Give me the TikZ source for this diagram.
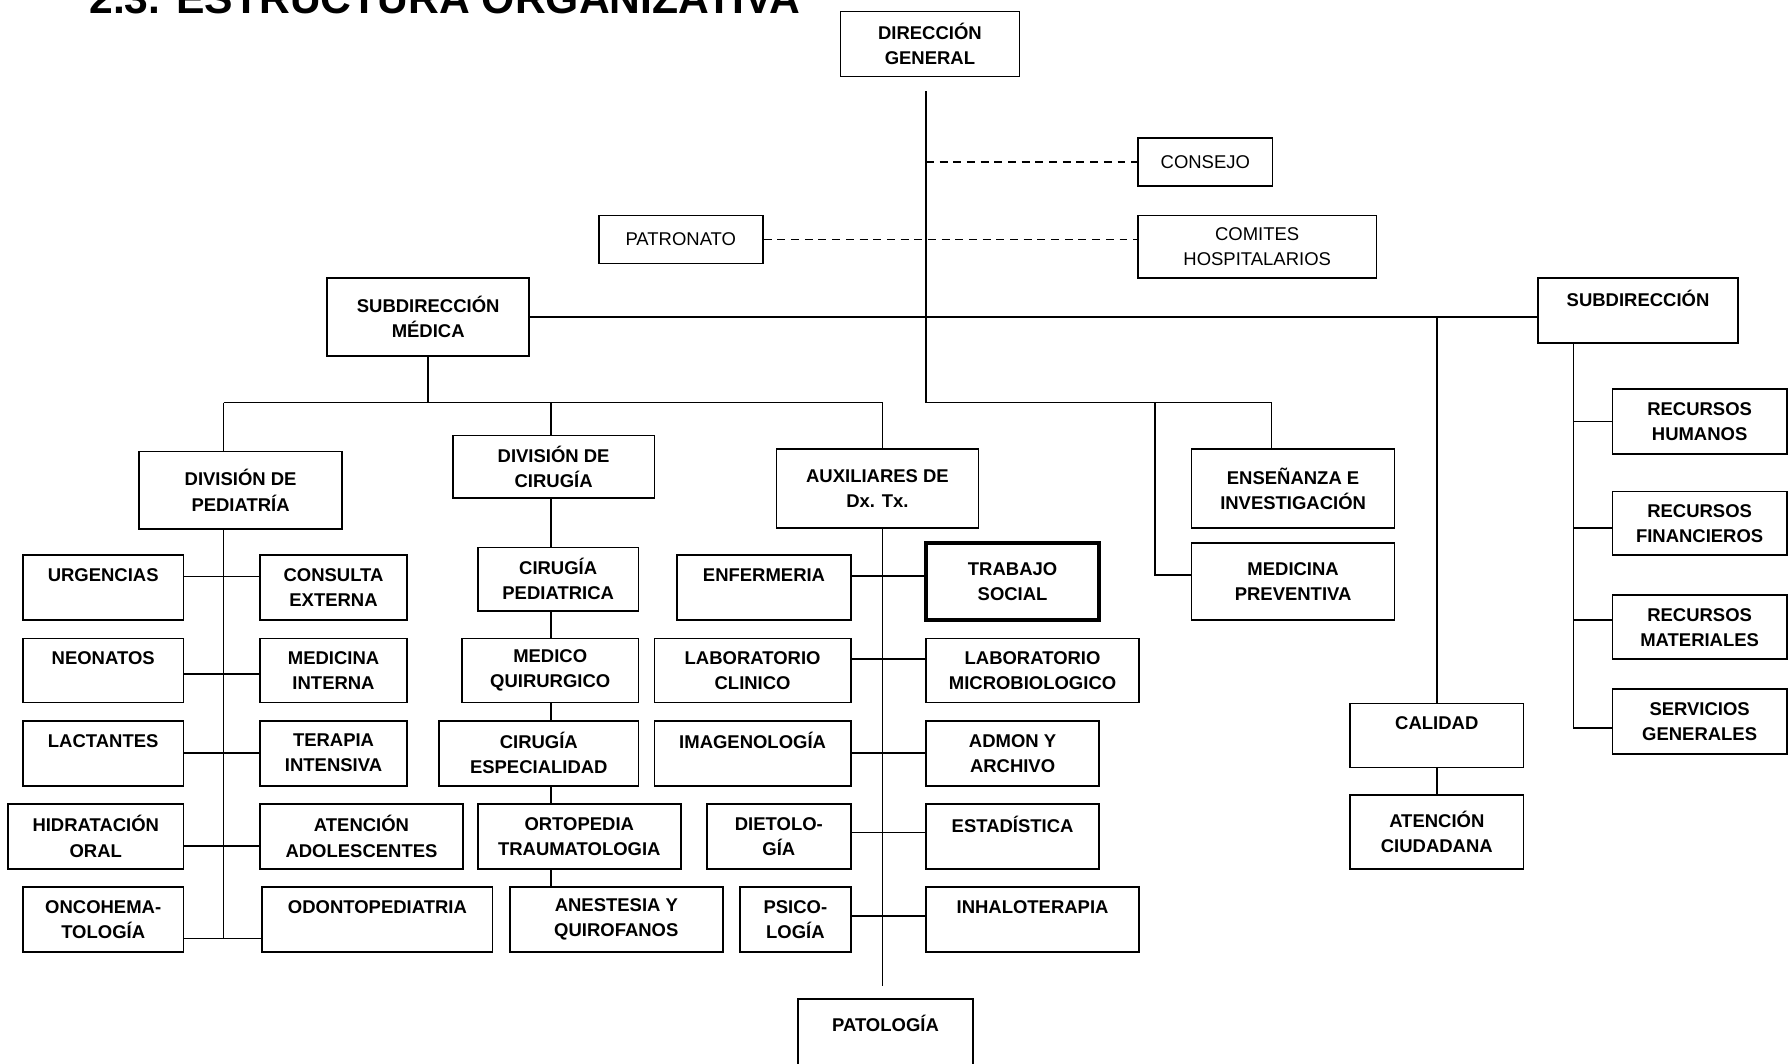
\documentclass[tikz,border=0pt]{standalone}
\usepackage{fontspec}
\setmainfont{Liberation Sans}
\usetikzlibrary{calc}

\begin{document}
\begin{tikzpicture}[
    x=0.5pt,y=-0.5pt,
    box/.style={
        draw,
        fill=white,
        line width=0.75pt,
        inner sep=1pt,
        align=center,
        minimum height=28.5pt,
        font=\fontsize{8.1}{11}\selectfont\bfseries
    },
    reg/.style={box, font=\fontsize{8.1}{11}\selectfont},
    thickbox/.style={box, line width=1.8pt},
    conn/.style={line width=0.75pt},
    dotline/.style={line width=0.75pt, dash pattern=on 3.5pt off 2.5pt}
]

\useasboundingbox (0,0) rectangle (1568,933);
\clip (0,0) rectangle (1568,933);

% Title (cut by the top edge)
\node[font=\fontsize{18.7}{22}\selectfont\bfseries, anchor=base west, inner sep=0pt] (title) at (78,12) {2.3. ESTRUCTURA ORGANIZATIVA};

% Direccion general, consejo, patronato, comites
\node[box, minimum width=78.5pt] (dg) at (815.5,38.5) {DIRECCIÓN\\GENERAL};
\node[reg, minimum width=59pt, minimum height=21pt] (consejo) at (1057,142) {CONSEJO};
\node[reg, minimum width=72pt, minimum height=21pt] (patron) at (597,210) {PATRONATO};
\node[reg, minimum width=104.5pt, minimum height=27.5pt] (comites) at (1102.5,216.5) {COMITES\\HOSPITALARIOS};

\coordinate (dgtop) at (812,80);
\coordinate (dgbus) at (812,353);
\draw[conn] (dgtop) -- (dgbus);
\draw[dotline] (consejo.west -| dgtop) -- (consejo.west);
\draw[dotline] (patron.east) -- (patron.east -| comites.west);

% Subdirecciones
\node[box, minimum width=88.5pt, minimum height=34pt] (submed) at (375.5,278) {SUBDIRECCIÓN\\MÉDICA};
\node[box, minimum width=87.5pt] (subadm) at (1436.5,272.5) {SUBDIRECCIÓN\\~};
\draw[conn] (submed.east) -- (submed.east -| subadm.west);

% Calidad
\node[box, minimum width=76pt, minimum height=28pt] (calidad) at (1260,645) {CALIDAD\\~};
\node[box, minimum width=76pt, minimum height=32.5pt] (atenc) at (1260,729.5) {ATENCIÓN\\CIUDADANA};
\draw[conn] (calidad.north |- submed.east) -- (calidad.north);
\draw[conn] (calidad.south) -- (atenc.north);

% Ensenanza y medicina preventiva
\node[box, minimum width=89pt, minimum height=34.5pt] (ensen) at (1134,428.5) {ENSEÑANZA E\\INVESTIGACIÓN};
\node[box, minimum width=89pt, minimum height=34pt] (medprev) at (1134,510) {MEDICINA\\PREVENTIVA};
\coordinate (ensdrop) at (1115,353);
\coordinate (prevdrop) at (1013,353);
\draw[conn] (dgbus) -- (ensdrop) -- (ensdrop |- ensen.north);
\draw[conn] (prevdrop) |- ([yshift=3pt]medprev.west);

% Recursos
\node[box, minimum width=76.5pt] (rh) at (1490.5,369.5) {RECURSOS\\HUMANOS};
\node[box, minimum width=76.5pt, minimum height=28pt] (rf) at (1490.5,459) {RECURSOS\\FINANCIEROS};
\node[box, minimum width=76.5pt, minimum height=28pt] (rm) at (1490.5,550) {RECURSOS\\MATERIALES};
\node[box, minimum width=76.5pt] (sg) at (1490.5,632.5) {SERVICIOS\\GENERALES};
\coordinate (admsp) at ([xshift=-28.25pt]subadm.south);
\draw[conn] (admsp) |- ([yshift=-3pt]sg.west);
\draw[conn] (rh.west) -- (rh.west -| admsp);
\draw[conn] ([yshift=-2pt]rf.west) -- ([yshift=-2pt]rf.west -| admsp);
\draw[conn] ([yshift=3.3pt]rm.west) -- ([yshift=3.3pt]rm.west -| admsp);

% Divisiones
\coordinate (pedsp) at (196,353);
\coordinate (cirsp) at (483,353);
\coordinate (auxsp) at (774,353);
\draw[conn] (submed.south) -- (submed.south |- pedsp);
\draw[conn] (pedsp) -- (auxsp);

\node[box, minimum width=89pt, minimum height=34pt] (divped) at (211,430) {DIVISIÓN DE\\PEDIATRÍA};
\node[box, minimum width=88.5pt, minimum height=27.5pt] (divcir) at (485.5,409.5) {DIVISIÓN DE\\CIRUGÍA};
\node[box, minimum width=88.5pt, minimum height=34.5pt] (aux) at (769.5,428.5) {AUXILIARES DE\\Dx. Tx.};
\draw[conn] (pedsp) -- (pedsp |- divped.north);
\draw[conn] (cirsp) -- (cirsp |- divcir.north);
\draw[conn] (auxsp) -- (auxsp |- aux.north);

% Pediatria
\node[box, minimum width=70.5pt] (urg) at (90.5,515.5) {URGENCIAS\\~};
\node[box, minimum width=64.5pt] (cons) at (292.5,515.5) {CONSULTA\\EXTERNA};
\node[box, minimum width=70.5pt, minimum height=28pt] (neo) at (90.5,588) {NEONATOS\\~};
\node[box, minimum width=64.5pt, minimum height=28pt] (medint) at (292.5,588) {MEDICINA\\INTERNA};
\node[box, minimum width=70.5pt] (lact) at (90.5,660.5) {LACTANTES\\~};
\node[box, minimum width=64.5pt] (terap) at (292.5,660.5) {TERAPIA\\INTENSIVA};
\node[box, minimum width=77pt] (hidra) at (84,733.5) {HIDRATACIÓN\\ORAL};
\node[box, minimum width=89pt] (adol) at (317,733.5) {ATENCIÓN\\ADOLESCENTES};
\node[box, minimum width=70.5pt] (onco) at (90.5,806.5) {ONCOHEMA-\\TOLOGÍA};
\node[box, minimum width=101pt] (odonto) at (331,806.5) {ODONTOPEDIATRIA\\~};

\coordinate (pedend) at (196,823);
\draw[conn] (pedsp |- divped.south) -- (pedend);
\draw[conn] ([yshift=5pt]urg.east) -- ([yshift=5pt]urg.east -| cons.west);
\draw[conn] ([yshift=-1.5pt]neo.east) -- ([yshift=-1.5pt]neo.east -| medint.west);
\draw[conn] (lact.east) -- (lact.east -| terap.west);
\draw[conn] ([yshift=-4.25pt]hidra.east) -- ([yshift=-4.25pt]hidra.east -| adol.west);
\draw[conn] ([yshift=-8.25pt]onco.east) -- ([yshift=-8.25pt]onco.east -| odonto.west);

% Cirugia
\node[box, minimum width=70.5pt, minimum height=28pt] (cirped) at (489.5,508) {CIRUGÍA\\PEDIATRICA};
\node[box, minimum width=77.5pt, minimum height=28pt] (medquir) at (482.5,588) {MEDICO\\QUIRURGICO};
\node[box, minimum width=87.5pt] (ciresp) at (472.5,660.5) {CIRUGÍA\\ESPECIALIDAD};
\node[box, minimum width=89pt] (orto) at (508,733.5) {ORTOPEDIA\\TRAUMATOLOGIA};
\node[box, minimum width=93.5pt] (anest) at (540.5,806.5) {ANESTESIA Y\\QUIROFANOS};
\foreach \a/\b in {divcir/cirped,cirped/medquir,medquir/ciresp,ciresp/orto,orto/anest}
    \draw[conn] (cirsp |- \a.south) -- (cirsp |- \b.north);

% Auxiliares de diagnostico y tratamiento
\node[box, minimum width=76pt] (enf) at (670,515.5) {ENFERMERIA\\~};
\node[thickbox, minimum width=76pt, minimum height=34pt] (trab) at (888,510) {TRABAJO\\SOCIAL};
\node[box, minimum width=86pt, minimum height=28pt] (labcli) at (660,588) {LABORATORIO\\CLINICO};
\node[box, minimum width=93.5pt, minimum height=28pt] (labmic) at (905.5,588) {LABORATORIO\\MICROBIOLOGICO};
\node[box, minimum width=86pt] (imag) at (660,660.5) {IMAGENOLOGÍA\\~};
\node[box, minimum width=76pt] (admon) at (888,660.5) {ADMON Y\\ARCHIVO};
\node[box, minimum width=63pt] (diet) at (683,733.5) {DIETOLO-\\GÍA};
\node[box, minimum width=76pt] (estad) at (888,733.5) {ESTADÍSTICA\\~};
\node[box, minimum width=48.5pt] (psico) at (697.5,806.5) {PSICO-\\LOGÍA};
\node[box, minimum width=93.5pt] (inhal) at (905.5,806.5) {INHALOTERAPIA\\~};
\node[box, minimum width=76.5pt, minimum height=32pt] (pato) at (776.5,908) {PATOLOGÍA\\~};

\coordinate (auxend) at (774,865);
\draw[conn] (auxsp |- aux.south) -- (auxend);
\draw[conn] ([yshift=5.25pt]enf.east) -- ([yshift=5.25pt]enf.east -| trab.west);
\draw[conn] ([yshift=5pt]labcli.east) -- ([yshift=5pt]labcli.east -| labmic.west);
\draw[conn] (imag.east) -- (imag.east -| admon.west);
\draw[conn] ([yshift=1.75pt]diet.east) -- ([yshift=1.75pt]diet.east -| estad.west);
\draw[conn] ([yshift=1.75pt]psico.east) -- ([yshift=1.75pt]psico.east -| inhal.west);

\end{tikzpicture}
\end{document}
